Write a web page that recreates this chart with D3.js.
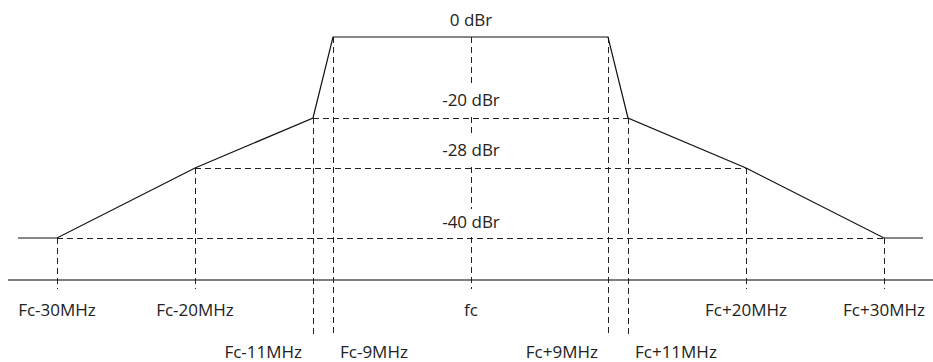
<!DOCTYPE html>
<html><head><meta charset="utf-8">
<script src="https://cdn.jsdelivr.net/npm/d3@7"></script>
<style>html,body{margin:0;padding:0;background:#fff;}svg{display:block;}</style>
</head><body>
<script>
// ---- data ----
const maskFreq  = [-33, -30, -20, -11, -9, 9, 11, 20, 30, 33];   // MHz offset from fc
const maskLevel = [-40, -40, -28, -20, 0, 0, -20, -28, -40, -40]; // dBr
const markerFreq   = [-30, -20, -11, -9, 0, 9, 11, 20, 30];
const markerLabels = ["Fc-30MHz","Fc-20MHz","Fc-11MHz","Fc-9MHz","fc","Fc+9MHz","Fc+11MHz","Fc+20MHz","Fc+30MHz"];
const markerLevel  = [-40, -28, -20, 0, 0, 0, -20, -28, -40];
const levelValues  = [0, -20, -28, -40];
const levelLabels  = ["0 dBr","-20 dBr","-28 dBr","-40 dBr"];
const levelSpan    = [9, 11, 20, 30]; // horizontal reference line half-width (MHz)

// ---- layout ----
const W = 933, H = 362;
const axisY = 280;
const font = "'Open Sans', sans-serif";
const fs = 17;

const x = d3.scaleLinear()
  .domain([-33,-30,-20,-11,-9,0,9,11,20,30,33])
  .range([18,57,195,313,333,471,608,628,746,884,923]);
const y = d3.scaleLinear()
  .domain([-40,-28,-20,0])
  .range([238,168,118,37]);

const svg = d3.select("body").append("svg").attr("width", W).attr("height", H);

// axis baseline
svg.append("line").attr("x1", 8).attr("x2", W).attr("y1", axisY).attr("y2", axisY)
  .attr("stroke", "#555").attr("stroke-width", 1.3);

const dash = "6,4";
// vertical dashed markers
const longDrop = f => Math.abs(f) === 9 || Math.abs(f) === 11;
svg.append("g").selectAll("line").data(markerFreq).join("line")
  .attr("x1", d => Math.round(x(d)) + 0.5).attr("x2", d => Math.round(x(d)) + 0.5)
  .attr("y1", (d, i) => y(markerLevel[i]))
  .attr("y2", d => longDrop(d) ? 335 : 289)
  .attr("stroke", "#222").attr("stroke-width", 1).attr("stroke-dasharray", dash);

// level labels with white background (break the fc line)
const lblY = [20, 100, 150, 222];
const lg = svg.append("g");
levelValues.forEach((v, i) => {
  if (i > 0) lg.append("rect").attr("x", x(0) - 38).attr("width", 76)
    .attr("y", lblY[i] - 13).attr("height", 28).attr("fill", "#fff");
  lg.append("text").attr("x", x(0)).attr("y", lblY[i]).attr("dy", "0.35em")
    .attr("text-anchor", "middle").attr("font-family", font).attr("font-size", fs)
    .attr("fill", "#222").text(levelLabels[i]);
});

// horizontal dashed reference lines
svg.append("g").selectAll("line").data(levelValues.slice(1)).join("line")
  .attr("x1", (d, i) => x(-levelSpan[i + 1])).attr("x2", (d, i) => x(levelSpan[i + 1]))
  .attr("y1", d => Math.round(y(d)) + 0.5).attr("y2", d => Math.round(y(d)) + 0.5)
  .attr("stroke", "#222").attr("stroke-width", 1).attr("stroke-dasharray", dash);

// mask (solid)
const line = d3.line().x(d => x(d[0])).y(d => y(d[1]));
svg.append("path").datum(maskFreq.map((f, i) => [f, maskLevel[i]]))
  .attr("d", line).attr("fill", "none").attr("stroke", "#111").attr("stroke-width", 1.2);

// frequency labels
svg.append("g").selectAll("text").data(markerFreq).join("text")
  .attr("x", d => {
    if (d === -11) return x(d) - 11;
    if (d === -9) return x(d) + 7;
    if (d === 9) return x(d) - 10;
    if (d === 11) return x(d) + 7;
    return x(d);
  })
  .attr("text-anchor", d => (d === -11 || d === 9) ? "end" : (d === -9 || d === 11) ? "start" : "middle")
  .attr("y", d => longDrop(d) ? 352 : 310).attr("dy", "0.35em")
  .attr("font-family", font).attr("font-size", fs).attr("fill", "#222")
  .text((d, i) => markerLabels[i]);
</script>
</body></html>
